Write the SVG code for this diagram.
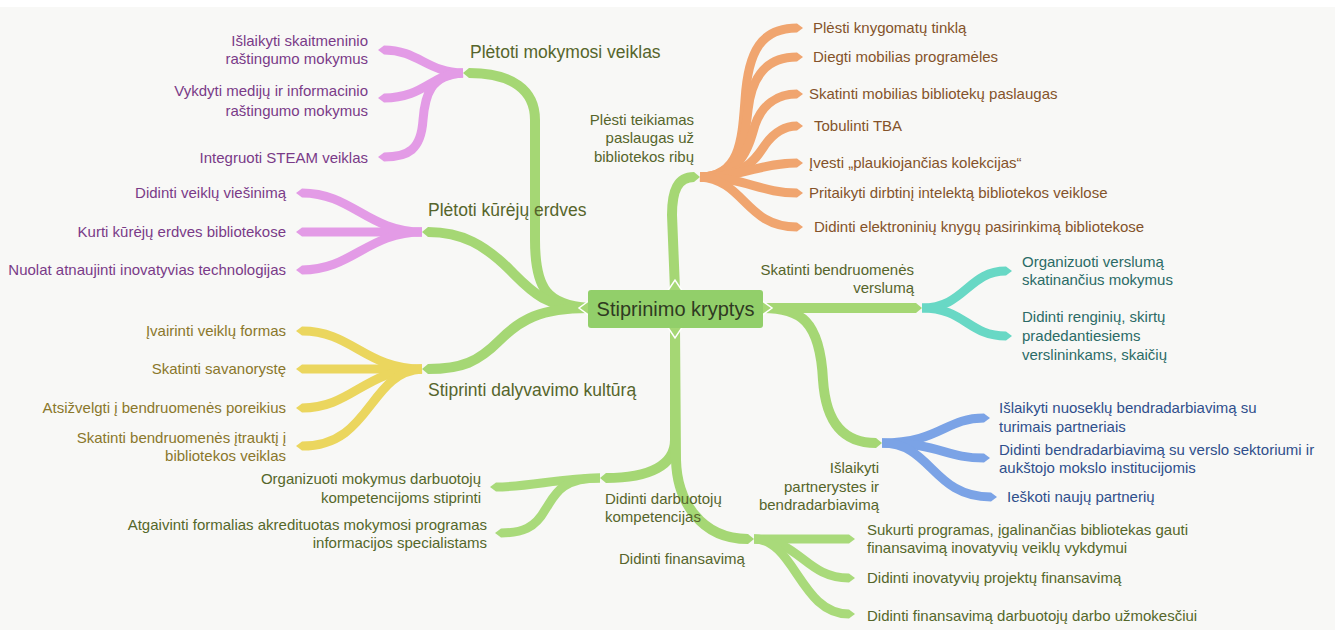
<svg xmlns="http://www.w3.org/2000/svg" width="1335" height="630" viewBox="0 0 1335 630">
<style>
text{font-family:"Liberation Sans",Arial,sans-serif;font-size:15px}
.main{fill:#56652b;font-size:17.5px}
.lbl{fill:#56652b}
.pu{fill:#7a3b88}
.ye{fill:#8a772b}
.or{fill:#84532a}
.te{fill:#2b6b66}
.bl{fill:#2f4f8c}
.gr{fill:#55672a}
.e{text-anchor:end}
path{fill:none;stroke-linecap:butt}
.g{stroke:#a5d774;stroke-width:10}
.gs{stroke:#a9da7a;stroke-width:9}
.p{stroke:#e39be6;stroke-width:9}
.o{stroke:#f0a56f;stroke-width:9}
.y{stroke:#ebd65e;stroke-width:9}
.t{stroke:#68d8c5;stroke-width:9}
.b{stroke:#7ba3e6;stroke-width:9}
</style>
<defs>
<marker id="mg" markerUnits="userSpaceOnUse" markerWidth="8" markerHeight="12" refX="0" refY="6" orient="auto"><path d="M0,1 L6,6 L0,11 z" style="fill:#a5d774;stroke:none"/></marker>
<marker id="mgs" markerUnits="userSpaceOnUse" markerWidth="8" markerHeight="12" refX="0" refY="6" orient="auto"><path d="M0,1.5 L6,6 L0,10.5 z" style="fill:#a9da7a;stroke:none"/></marker>
<marker id="mp" markerUnits="userSpaceOnUse" markerWidth="8" markerHeight="12" refX="0" refY="6" orient="auto"><path d="M0,1.5 L6,6 L0,10.5 z" style="fill:#e39be6;stroke:none"/></marker>
<marker id="mo" markerUnits="userSpaceOnUse" markerWidth="8" markerHeight="12" refX="0" refY="6" orient="auto"><path d="M0,1.5 L6,6 L0,10.5 z" style="fill:#f0a56f;stroke:none"/></marker>
<marker id="my" markerUnits="userSpaceOnUse" markerWidth="8" markerHeight="12" refX="0" refY="6" orient="auto"><path d="M0,1.5 L6,6 L0,10.5 z" style="fill:#ebd65e;stroke:none"/></marker>
<marker id="mt" markerUnits="userSpaceOnUse" markerWidth="8" markerHeight="12" refX="0" refY="6" orient="auto"><path d="M0,1.5 L6,6 L0,10.5 z" style="fill:#68d8c5;stroke:none"/></marker>
<marker id="mb" markerUnits="userSpaceOnUse" markerWidth="8" markerHeight="12" refX="0" refY="6" orient="auto"><path d="M0,1.5 L6,6 L0,10.5 z" style="fill:#7ba3e6;stroke:none"/></marker>
</defs>
<rect width="1335" height="630" fill="#f8f8f6"/>
<rect width="1335" height="7" fill="#ffffff"/>

<g id="connectors">
<g marker-end="url(#mp)">
<path class="p" d="M463,73 C428,73 418,50 384,50"/>
<path class="p" d="M463,73 C432,73 425,98 384,98"/>
<path class="p" d="M463,73 C430,75 425,95 423,120 C421,150 408,157 384,157"/>
<path class="p" d="M422,232 C368,232 352,193 302,193"/>
<path class="p" d="M422,232 L302,232"/>
<path class="p" d="M422,232 C368,232 352,270 302,270"/>
</g>
<g marker-end="url(#my)">
<path class="y" d="M422,369 C365,369 352,331 302,331"/>
<path class="y" d="M422,369 L302,369"/>
<path class="y" d="M422,369 C365,369 352,408 302,408"/>
<path class="y" d="M422,369 C368,372 372,446 302,446"/>
</g>
<g marker-end="url(#mo)">
<path class="o" d="M700,177 C740,177 742,140 745,100 C748,50 762,28 797,28"/>
<path class="o" d="M700,177 C740,177 745,140 748,110 C752,75 767,57 797,57"/>
<path class="o" d="M700,177 C740,177 748,150 755,125 C762,105 777,94 797,94"/>
<path class="o" d="M700,177 C745,177 755,160 765,145 C775,131 786,126 797,126"/>
<path class="o" d="M700,177 C745,177 760,163 797,163"/>
<path class="o" d="M700,177 C745,177 760,193 797,193"/>
<path class="o" d="M700,177 C745,180 745,227 797,227"/>
</g>
<g marker-end="url(#mt)">
<path class="t" d="M922,308 C965,308 968,271 1006,271"/>
<path class="t" d="M922,308 C965,308 968,336 1006,336"/>
</g>
<g marker-end="url(#mb)">
<path class="b" d="M882,443 C940,443 945,418 984,418"/>
<path class="b" d="M882,443 C940,443 945,458 984,458"/>
<path class="b" d="M882,443 C932,443 932,497 991,497"/>
</g>
<g marker-end="url(#mgs)">
<path class="gs" d="M600,478 C560,478 530,487 496,487"/>
<path class="gs" d="M600,478 C560,478 555,495 545,510 C535,528 522,533 501,533"/>
<path class="gs" d="M754,539 L849,539"/>
<path class="gs" d="M754,539 C800,539 805,578 849,578"/>
<path class="gs" d="M754,539 C795,539 800,614 849,614"/>
</g>
<g marker-end="url(#mg)">
<path class="g" d="M588,308 C548,305 535,290 535,240 L535,120 C535,90 512,73 469,73"/>
<path class="g" d="M588,308 C545,308 530,290 510,270 C485,245 462,232 428,232"/>
<path class="g" d="M588,308 C540,308 520,320 500,340 C478,362 462,369 428,369"/>
<path class="g" d="M675,290 L672,215 C672,190 678,177 694,177"/>
<path class="g" d="M763,308 L916,308"/>
<path class="g" d="M763,308 C800,308 820,320 823,380 C826,425 845,443 876,443"/>
<path class="g" d="M675,328 L675,440 C675,465 650,478 606,478"/>
<path class="g" d="M675,328 L676,460 C677,500 700,539 748,539"/>
</g>
</g>

<g id="center">
<polygon points="590,300 579,308 590,316" fill="#a5d774" stroke="#ffffff" stroke-width="1.5"/>
<polygon points="761,300 772,308 761,316" fill="#a5d774" stroke="#ffffff" stroke-width="1.5"/>
<polygon points="667,292 675,280 683,292" fill="#a5d774" stroke="#ffffff" stroke-width="1.5"/>
<polygon points="667,326 675,338 683,326" fill="#a5d774" stroke="#ffffff" stroke-width="1.5"/>
<rect x="588" y="290" width="175" height="38" rx="3" fill="#92cf6a"/>
<text x="675.5" y="316" text-anchor="middle" style="font-size:20px;fill:#2f3a22">Stiprinimo kryptys</text>
</g>

<g id="n-mokymosi">
<text class="main" x="470" y="58">Plėtoti mokymosi veiklas</text>
<text class="pu e" x="368" y="46">Išlaikyti skaitmeninio</text>
<text class="pu e" x="368" y="64">raštingumo mokymus</text>
<text class="pu e" x="368" y="96">Vykdyti medijų ir informacinio</text>
<text class="pu e" x="368" y="116">raštingumo mokymus</text>
<text class="pu e" x="368" y="163">Integruoti STEAM veiklas</text>
</g>

<g id="n-kureju">
<text class="main" x="428" y="216">Plėtoti kūrėjų erdves</text>
<text class="pu e" x="286" y="198">Didinti veiklų viešinimą</text>
<text class="pu e" x="286" y="237">Kurti kūrėjų erdves bibliotekose</text>
<text class="pu e" x="286" y="275">Nuolat atnaujinti inovatyvias technologijas</text>
</g>

<g id="n-dalyvavimo">
<text class="main" x="428" y="396">Stiprinti dalyvavimo kultūrą</text>
<text class="ye e" x="286" y="336">Įvairinti veiklų formas</text>
<text class="ye e" x="286" y="374">Skatinti savanorystę</text>
<text class="ye e" x="286" y="413">Atsižvelgti į bendruomenės poreikius</text>
<text class="ye e" x="286" y="443">Skatinti bendruomenės įtrauktį į</text>
<text class="ye e" x="286" y="461">bibliotekos veiklas</text>
</g>

<g id="n-darbuotoju">
<text class="lbl" x="605" y="504">Didinti darbuotojų</text>
<text class="lbl" x="605" y="522">kompetencijas</text>
<text class="gr e" x="481" y="484">Organizuoti mokymus darbuotojų</text>
<text class="gr e" x="481" y="503">kompetencijoms stiprinti</text>
<text class="gr e" x="487" y="530">Atgaivinti formalias akredituotas mokymosi programas</text>
<text class="gr e" x="487" y="548">informacijos specialistams</text>
</g>

<g id="n-plesti">
<text class="lbl e" x="694" y="125">Plėsti teikiamas</text>
<text class="lbl e" x="694" y="143">paslaugas už</text>
<text class="lbl e" x="694" y="162">bibliotekos ribų</text>
<text class="or" x="813" y="33">Plėsti knygomatų tinklą</text>
<text class="or" x="813" y="62">Diegti mobilias programėles</text>
<text class="or" x="809" y="99">Skatinti mobilias bibliotekų paslaugas</text>
<text class="or" x="814" y="131">Tobulinti TBA</text>
<text class="or" x="809" y="168">Įvesti „plaukiojančias kolekcijas“</text>
<text class="or" x="809" y="198">Pritaikyti dirbtinį intelektą bibliotekos veiklose</text>
<text class="or" x="814" y="232">Didinti elektroninių knygų pasirinkimą bibliotekose</text>
</g>

<g id="n-verslumas">
<text class="lbl e" x="914" y="275">Skatinti bendruomenės</text>
<text class="lbl e" x="914" y="293">verslumą</text>
<text class="te" x="1022" y="267">Organizuoti verslumą</text>
<text class="te" x="1022" y="285">skatinančius mokymus</text>
<text class="te" x="1022" y="322">Didinti renginių, skirtų</text>
<text class="te" x="1022" y="341">pradedantiesiems</text>
<text class="te" x="1022" y="360">verslininkams, skaičių</text>
</g>

<g id="n-partnerystes">
<text class="lbl e" x="879" y="473">Išlaikyti</text>
<text class="lbl e" x="879" y="492">partnerystes ir</text>
<text class="lbl e" x="879" y="510">bendradarbiavimą</text>
<text class="bl" x="999" y="413">Išlaikyti nuoseklų bendradarbiavimą su</text>
<text class="bl" x="999" y="432">turimais partneriais</text>
<text class="bl" x="999" y="455">Didinti bendradarbiavimą su verslo sektoriumi ir</text>
<text class="bl" x="999" y="473">aukštojo mokslo institucijomis</text>
<text class="bl" x="1007" y="502">Ieškoti naujų partnerių</text>
</g>

<g id="n-finansavimas">
<text class="lbl" x="619" y="564">Didinti finansavimą</text>
<text class="gr" x="867" y="535">Sukurti programas, įgalinančias bibliotekas gauti</text>
<text class="gr" x="867" y="553">finansavimą inovatyvių veiklų vykdymui</text>
<text class="gr" x="867" y="583">Didinti inovatyvių projektų finansavimą</text>
<text class="gr" x="867" y="621">Didinti finansavimą darbuotojų darbo užmokesčiui</text>
</g>
</svg>
